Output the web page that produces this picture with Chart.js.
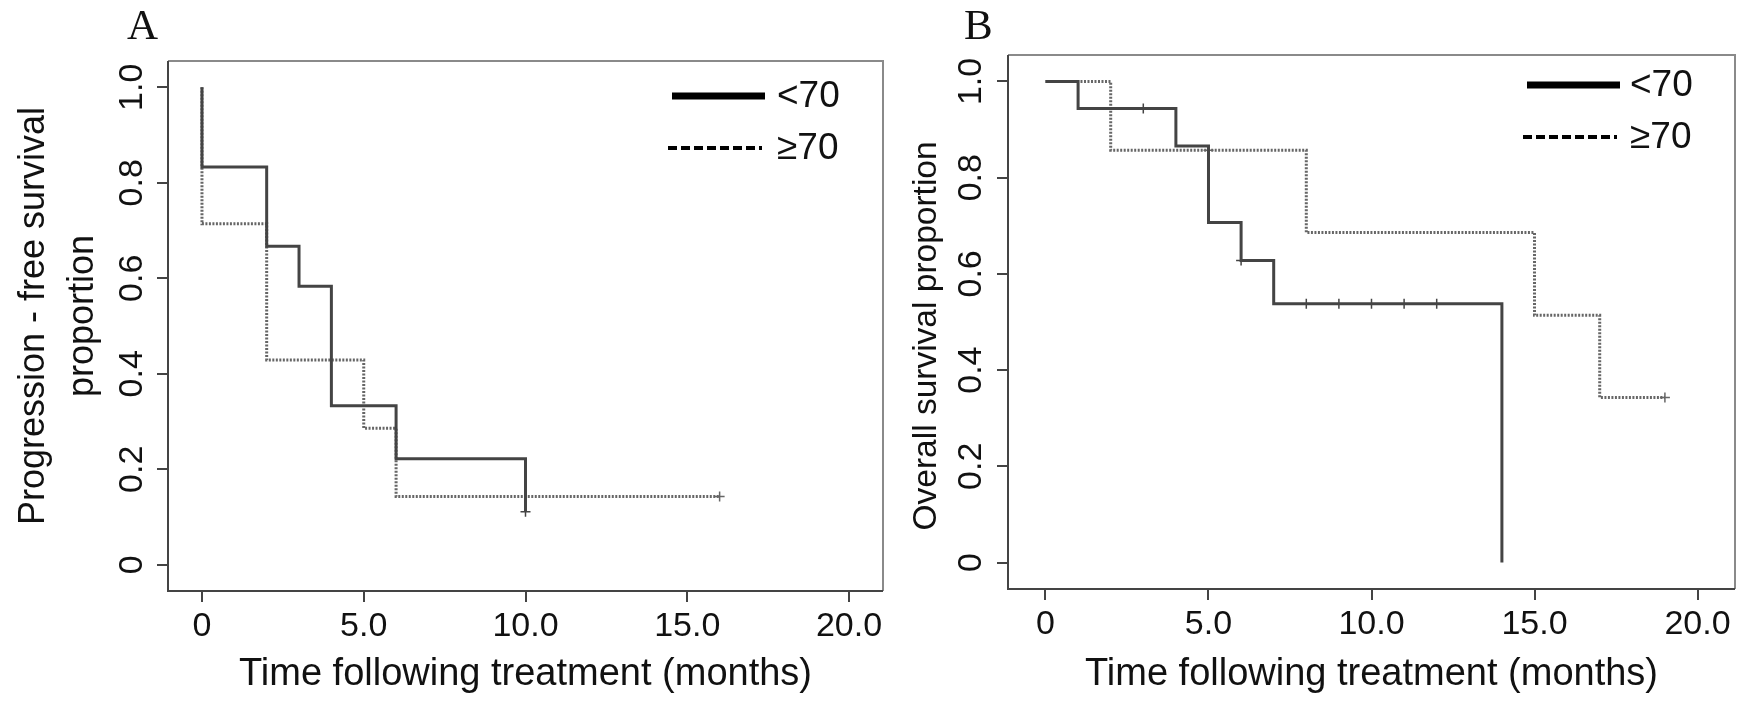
<!DOCTYPE html>
<html>
<head>
<meta charset="utf-8">
<script src="https://cdn.jsdelivr.net/npm/chart.js@4.4.1/dist/chart.umd.min.js"></script>
<style>
  html, body { margin: 0; padding: 0; background: #fff; }
  body { width: 1764px; height: 702px; position: relative; overflow: hidden; }
  .panel { position: absolute; top: 0; height: 702px; }
  #wrapA { left: 0; width: 900px; }
  #wrapB { left: 900px; width: 864px; }
  .letter { position: absolute; font-family: "Liberation Serif", "Times New Roman", serif;
            font-size: 43px; line-height: 1; color: #111; }
</style>
</head>
<body>
<div class="panel" id="wrapA"><canvas id="chartA"></canvas></div>
<div class="panel" id="wrapB"><canvas id="chartB"></canvas></div>
<div class="letter" style="left:127px; top:3px;">A</div>
<div class="letter" style="left:964px; top:3px;">B</div>

<script>
// groups
const groups = ['<70', '\u226570'];

// A: progression-free survival (step points: time, proportion after event)
const pfsYoungTimes = [0, 0, 2, 3, 4, 6, 10];
const pfsYoungSurv = [1, 0.833, 0.667, 0.583, 0.333, 0.222, 0.111];
const pfsOldTimes = [0, 0, 2, 5, 6, 16];
const pfsOldSurv = [1, 0.714, 0.429, 0.286, 0.143, 0.143];
const pfsYoungCensorTimes = [10];
const pfsYoungCensorSurv = [0.111];
const pfsOldCensorTimes = [16];
const pfsOldCensorSurv = [0.143];

// B: overall survival
const osYoungTimes = [0, 1, 4, 5, 6, 7, 14];
const osYoungSurv = [1, 0.944, 0.866, 0.707, 0.628, 0.538, 0];
const osOldTimes = [0, 2, 8, 15, 17, 19];
const osOldSurv = [1, 0.857, 0.686, 0.514, 0.343, 0.343];
const osYoungCensorTimes = [3, 6, 8, 9, 10, 11, 12];
const osYoungCensorSurv = [0.944, 0.628, 0.538, 0.538, 0.538, 0.538, 0.538];
const osOldCensorTimes = [5, 19];
const osOldCensorSurv = [0.857, 0.343];

// ticks
const xTickValues = [0, 5, 10, 15, 20];
const xTickLabels = ['0', '5.0', '10.0', '15.0', '20.0'];
const yTickValues = [0, 0.2, 0.4, 0.6, 0.8, 1.0];
const yTickLabels = ['0', '0.2', '0.4', '0.6', '0.8', '1.0'];

const FONT = '"Liberation Sans", Arial, sans-serif';
const INK = '#111';
const AXIS = '#444';

function pts(times, vals) {
  return times.map((t, i) => ({ x: t, y: vals[i] }));
}

// box around the plot region, darker on the axis sides
const boxPlugin = {
  id: 'box',
  beforeDatasetsDraw(chart) {
    const { ctx, chartArea: a } = chart;
    ctx.save();
    ctx.lineWidth = 2;
    ctx.strokeStyle = '#8a8a8a';
    ctx.beginPath();
    ctx.moveTo(a.left, a.top); ctx.lineTo(a.right, a.top); ctx.lineTo(a.right, a.bottom);
    ctx.stroke();
    ctx.strokeStyle = AXIS;
    ctx.beginPath();
    ctx.moveTo(a.left, a.top); ctx.lineTo(a.left, a.bottom); ctx.lineTo(a.right, a.bottom);
    ctx.stroke();
    ctx.restore();
  }
};

// legend drawn inside the plot, top right
const kmLegend = {
  id: 'kmLegend',
  afterDraw(chart, args, opts) {
    const { ctx, chartArea: a } = chart;
    const x0 = a.right - opts.start, x1 = a.right - opts.end, tx = a.right - opts.text;
    ctx.save();
    ctx.strokeStyle = '#000';
    ctx.lineWidth = 7;
    ctx.beginPath();
    ctx.moveTo(x0, a.top + opts.y1); ctx.lineTo(x1, a.top + opts.y1);
    ctx.stroke();
    ctx.lineWidth = 4;
    ctx.setLineDash([9, 4]);
    ctx.beginPath();
    ctx.moveTo(x0 - 4, a.top + opts.y2); ctx.lineTo(x1 - 3, a.top + opts.y2);
    ctx.stroke();
    ctx.setLineDash([]);
    ctx.fillStyle = INK;
    ctx.font = '37px ' + FONT;
    ctx.textBaseline = 'middle';
    ctx.textAlign = 'left';
    ctx.fillText(groups[0], tx, a.top + opts.y1 + 1);
    ctx.fillText(groups[1], tx, a.top + opts.y2 + 1);
    ctx.restore();
  }
};

function makeChart(id, cfg) {
  const datasets = [
    {
      label: groups[0], data: pts(cfg.youngT, cfg.youngS), stepped: 'before',
      borderColor: '#444', borderWidth: 3, pointRadius: 0, fill: false
    },
    {
      label: groups[1], data: pts(cfg.oldT, cfg.oldS), stepped: 'before',
      borderColor: '#666', borderWidth: 3, borderDash: [2, 1.5], pointRadius: 0, fill: false
    },
    {
      label: groups[0] + ' censored', data: pts(cfg.youngCT, cfg.youngCS), showLine: false,
      pointStyle: 'cross', pointRadius: 5, pointBorderWidth: 1.5, pointBorderColor: '#444'
    },
    {
      label: groups[1] + ' censored', data: pts(cfg.oldCT, cfg.oldCS), showLine: false,
      pointStyle: 'cross', pointRadius: 5, pointBorderWidth: 1.5, pointBorderColor: '#666'
    }
  ];

  return new Chart(document.getElementById(id), {
    type: 'line',
    data: { datasets },
    options: {
      responsive: true,
      maintainAspectRatio: false,
      animation: false,
      devicePixelRatio: 1,
      layout: { padding: cfg.padding },
      plugins: {
        legend: { display: false },
        tooltip: { enabled: false },
        kmLegend: cfg.legend
      },
      scales: {
        x: {
          type: 'linear',
          min: cfg.xMin, max: cfg.xMax,
          afterBuildTicks: s => { s.ticks = xTickValues.map(v => ({ value: v })); },
          afterFit: s => { s.height = cfg.xAxisHeight; },
          ticks: {
            autoSkip: false, maxRotation: 0, padding: 4,
            color: INK, font: { family: FONT, size: 34 },
            callback: v => xTickLabels[xTickValues.indexOf(v)]
          },
          grid: { drawOnChartArea: false, drawTicks: true, tickLength: 11, color: AXIS, lineWidth: 2 },
          border: { display: false },
          title: {
            display: true, text: 'Time following treatment (months)', color: INK,
            font: { family: FONT, size: 38 }, padding: { top: 0, bottom: 5 }
          }
        },
        y: {
          type: 'linear',
          min: -0.055, max: 1.055,
          afterBuildTicks: s => { s.ticks = yTickValues.map(v => ({ value: v })); },
          afterFit: s => { s.width = cfg.yAxisWidth; },
          ticks: {
            autoSkip: false, minRotation: 90, maxRotation: 90, crossAlign: 'center',
            padding: cfg.yTickPad, color: INK, font: { family: FONT, size: 34 },
            callback: v => yTickLabels[yTickValues.findIndex(t => Math.abs(t - v) < 1e-9)]
          },
          grid: { drawOnChartArea: false, drawTicks: true, tickLength: 11, color: AXIS, lineWidth: 2 },
          border: { display: false },
          title: {
            display: true, text: cfg.yTitle, color: INK,
            font: { family: FONT, size: cfg.yTitleSize, lineHeight: 1.35 },
            padding: { top: cfg.yTitlePad, bottom: 0 }
          }
        }
      }
    },
    plugins: [boxPlugin, kmLegend]
  });
}

makeChart('chartA', {
  youngT: pfsYoungTimes, youngS: pfsYoungSurv, oldT: pfsOldTimes, oldS: pfsOldSurv,
  youngCT: pfsYoungCensorTimes, youngCS: pfsYoungCensorSurv,
  oldCT: pfsOldCensorTimes, oldCS: pfsOldCensorSurv,
  xMin: -1.05, xMax: 21.05,
  padding: { left: 0, top: 61, right: 17, bottom: 0 },
  yAxisWidth: 168, xAxisHeight: 111, yTickPad: 1,
  // leading spaces nudge the rotated title up a little, as in the original
  yTitle: ['  Progression - free survival', '  proportion'], yTitleSize: 36, yTitlePad: 10,
  legend: { start: 211, end: 118, text: 106, y1: 35, y2: 87 }
});

makeChart('chartB', {
  youngT: osYoungTimes, youngS: osYoungSurv, oldT: osOldTimes, oldS: osOldSurv,
  youngCT: osYoungCensorTimes, youngCS: osYoungCensorSurv,
  oldCT: osOldCensorTimes, oldCS: osOldCensorSurv,
  xMin: -1.15, xMax: 21.15,
  padding: { left: 0, top: 55, right: 29, bottom: 0 },
  yAxisWidth: 108, xAxisHeight: 113, yTickPad: 2,
  // trailing spaces push the title slightly lower
  yTitle: 'Overall survival proportion   ', yTitleSize: 33.5, yTitlePad: 4,
  legend: { start: 208, end: 115, text: 105, y1: 30, y2: 82 }
});
</script>
</body>
</html>
